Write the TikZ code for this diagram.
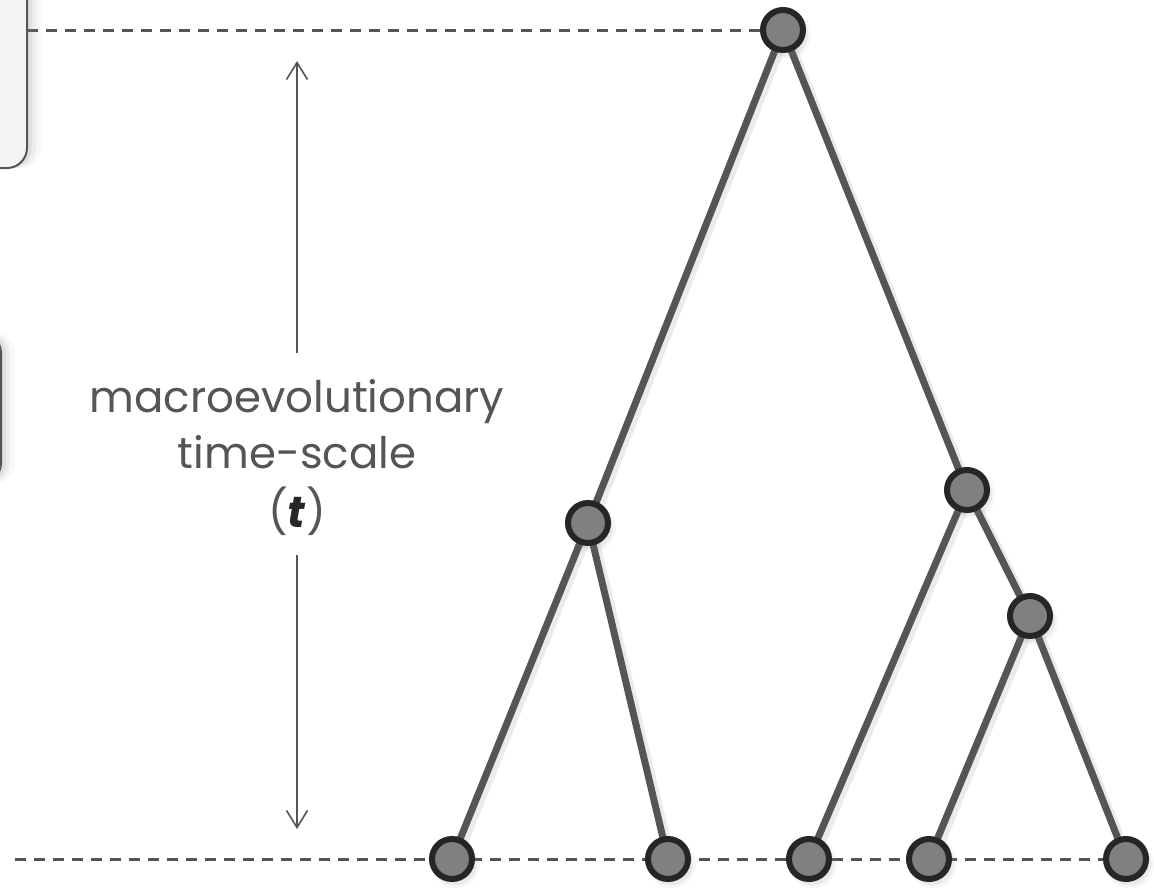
\documentclass[tikz,border=0pt]{standalone}
\usepackage{fontspec}
\setmainfont{Poppins}
\usetikzlibrary{arrows.meta,shadows,backgrounds}
\definecolor{edgec}{HTML}{555555}
\definecolor{nodefill}{HTML}{808080}
\definecolor{nodeborder}{HTML}{262626}
\definecolor{boxfill}{HTML}{F4F4F4}
\definecolor{txt}{HTML}{555555}
\begin{document}
\begin{tikzpicture}[x=1pt,y=-1pt,
  tnode/.style={circle, draw=nodeborder, fill=nodefill, line width=6pt,
    minimum size=40pt, inner sep=0pt,
    drop shadow={shadow xshift=3pt,shadow yshift=-4pt,opacity=0.06,shadow scale=1.22},
    drop shadow={shadow xshift=3pt,shadow yshift=-4pt,opacity=0.10,shadow scale=1.1},
    drop shadow={shadow xshift=2pt,shadow yshift=-3pt,opacity=0.15}},
  branch/.style={draw=edgec, line width=7pt,
    preaction={draw=black, opacity=0.08, line width=10pt,
      transform canvas={shift={(3pt,-3pt)}}}},
  guide/.style={draw=edgec, line width=3pt, dash pattern=on 11pt off 8pt},
  axisarrow/.style={draw=edgec, line width=1.6pt,
    -{Straight Barb[length=17pt,width=21pt,line width=1.6pt]}},
  panel/.style={draw=edgec, fill=boxfill, line width=2pt, rounded corners=20pt,
    drop shadow={shadow xshift=14pt,shadow yshift=0pt,opacity=0.05},
    drop shadow={shadow xshift=9pt,shadow yshift=0pt,opacity=0.08},
    drop shadow={shadow xshift=5pt,shadow yshift=0pt,opacity=0.12}},
  lbl/.style={text=txt, inner sep=0pt, font=\fontsize{43.5}{52}\selectfont}
]
\useasboundingbox (0,0) rectangle (1154,889);

% partial panels at the left edge
\path[panel] (-60,-40) rectangle (27,168);
\path[panel] (-80,333) rectangle (1,483);

% tree nodes
\node[tnode] (root) at (783,30) {};
\node[tnode] (A) at (588,523) {};
\node[tnode] (B) at (967,490) {};
\node[tnode] (C) at (1030,616) {};
\node[tnode] (L1) at (452,859) {};
\node[tnode] (L2) at (668,859) {};
\node[tnode] (L3) at (809,859) {};
\node[tnode] (L4) at (929,859) {};
\node[tnode] (L5) at (1126,859) {};

\coordinate (topstart) at (27,30);
\coordinate (botstart) at (15,859);

\begin{scope}[on background layer]
  \fill[white] (0,0) rectangle (1154,889);
  \draw[guide] (topstart) -- (root.center);
  \draw[guide] (botstart) -- (L5.center);
  \draw[branch] (root.center) -- (A.center);
  \draw[branch] (root.center) -- (B.center);
  \draw[branch] (A.center) -- (L1.center);
  \draw[branch] (A.center) -- (L2.center);
  \draw[branch] (B.center) -- (L3.center);
  \draw[branch] (B.center) -- (C.center);
  \draw[branch] (C.center) -- (L4.center);
  \draw[branch] (C.center) -- (L5.center);
\end{scope}

% time-scale label
\node[lbl, anchor=base] (t1) at (297,412) {macroevolutionary};
\node[lbl, anchor=base] (t2) at (297,468) {time-scale};
\node[lbl, anchor=base] (t3) at (297,527) {(\textcolor{nodeborder}{\textbf{\textit{t}}})};

\coordinate (upstart) at (297,353);
\coordinate (uptip) at (297,61);
\coordinate (downstart) at (297,555);
\coordinate (downtip) at (297,829);
\draw[axisarrow] (upstart) -- (uptip);
\draw[axisarrow] (downstart) -- (downtip);
\end{tikzpicture}
\end{document}
